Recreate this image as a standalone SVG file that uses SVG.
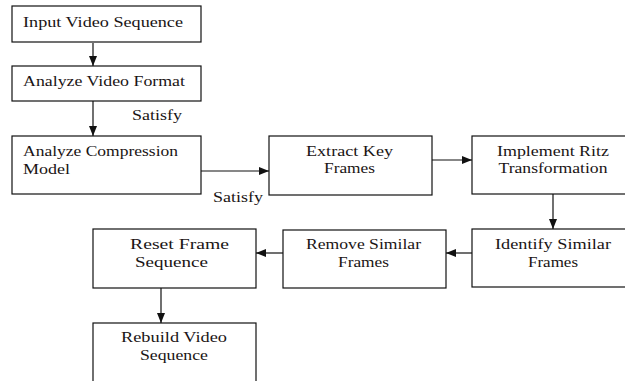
<svg xmlns="http://www.w3.org/2000/svg" width="625" height="381" viewBox="0 0 625 381">
<style>
.box{fill:#fff;stroke:#111;stroke-width:1.2}
.t{font-family:'Times New Roman',Times,Tinos,'Liberation Serif','DejaVu Serif','Noto Serif',serif;font-size:15px;fill:#1a1414}
.c{text-anchor:middle}
.ln{fill:none;stroke:#111;stroke-width:1.2}
</style>
<defs>
<marker id="ah" markerUnits="userSpaceOnUse" markerWidth="10" markerHeight="10" viewBox="0 0 10 10" refX="10" refY="5" orient="auto">
<path d="M0,1 L10,5 L0,9 Z" fill="#111"/>
</marker>
</defs>
<rect width="625" height="381" fill="#fff"/>
<g id="connectors">
<path class="ln" d="M93,43 V66" marker-end="url(#ah)"/>
<path class="ln" d="M93,101 V136" marker-end="url(#ah)"/>
<path class="ln" d="M201,171 H269" marker-end="url(#ah)"/>
<path class="ln" d="M432,160 H472" marker-end="url(#ah)"/>
<path class="ln" d="M553,194 V229" marker-end="url(#ah)"/>
<path class="ln" d="M472,253 H446" marker-end="url(#ah)"/>
<path class="ln" d="M283,253 H256" marker-end="url(#ah)"/>
<path class="ln" d="M161,288 V323" marker-end="url(#ah)"/>
<text class="t" x="132" y="120" textLength="50" lengthAdjust="spacingAndGlyphs">Satisfy</text>
<text class="t" x="213" y="201.5" textLength="50" lengthAdjust="spacingAndGlyphs">Satisfy</text>
</g>
<g id="input">
<rect class="box" x="12" y="6" width="189" height="36"/>
<text class="t" x="23" y="27.3" textLength="160" lengthAdjust="spacingAndGlyphs">Input Video Sequence</text>
</g>
<g id="format">
<rect class="box" x="12" y="66" width="189" height="35"/>
<text class="t" x="23" y="86" textLength="162" lengthAdjust="spacingAndGlyphs">Analyze Video Format</text>
</g>
<g id="compression">
<rect class="box" x="12" y="136" width="189" height="58"/>
<text class="t" x="23" y="156" textLength="155" lengthAdjust="spacingAndGlyphs">Analyze Compression</text>
<text class="t" x="23" y="174" textLength="47" lengthAdjust="spacingAndGlyphs">Model</text>
</g>
<g id="extract">
<rect class="box" x="269" y="136" width="163" height="59"/>
<text class="t c" x="349.5" y="156" textLength="87" lengthAdjust="spacingAndGlyphs">Extract Key</text>
<text class="t c" x="349.5" y="173" textLength="51" lengthAdjust="spacingAndGlyphs">Frames</text>
</g>
<g id="ritz">
<rect class="box" x="472" y="136" width="163" height="58"/>
<text class="t c" x="553" y="156" textLength="112" lengthAdjust="spacingAndGlyphs">Implement Ritz</text>
<text class="t c" x="553" y="173" textLength="109" lengthAdjust="spacingAndGlyphs">Transformation</text>
</g>
<g id="identify">
<rect class="box" x="472" y="229" width="163" height="58"/>
<text class="t c" x="553" y="249" textLength="116" lengthAdjust="spacingAndGlyphs">Identify Similar</text>
<text class="t c" x="553" y="267" textLength="50" lengthAdjust="spacingAndGlyphs">Frames</text>
</g>
<g id="remove">
<rect class="box" x="283" y="230" width="163" height="58"/>
<text class="t c" x="363.5" y="249" textLength="115" lengthAdjust="spacingAndGlyphs">Remove Similar</text>
<text class="t c" x="363.5" y="267" textLength="51" lengthAdjust="spacingAndGlyphs">Frames</text>
</g>
<g id="reset">
<rect class="box" x="93" y="229" width="163" height="59"/>
<text class="t c" x="179.5" y="249" textLength="99" lengthAdjust="spacingAndGlyphs">Reset Frame</text>
<text class="t c" x="171.5" y="267" textLength="73" lengthAdjust="spacingAndGlyphs">Sequence</text>
</g>
<g id="rebuild">
<rect class="box" x="93" y="323" width="163" height="70"/>
<text class="t c" x="174" y="342" textLength="106" lengthAdjust="spacingAndGlyphs">Rebuild Video</text>
<text class="t c" x="174" y="360" textLength="68" lengthAdjust="spacingAndGlyphs">Sequence</text>
</g>
</svg>
